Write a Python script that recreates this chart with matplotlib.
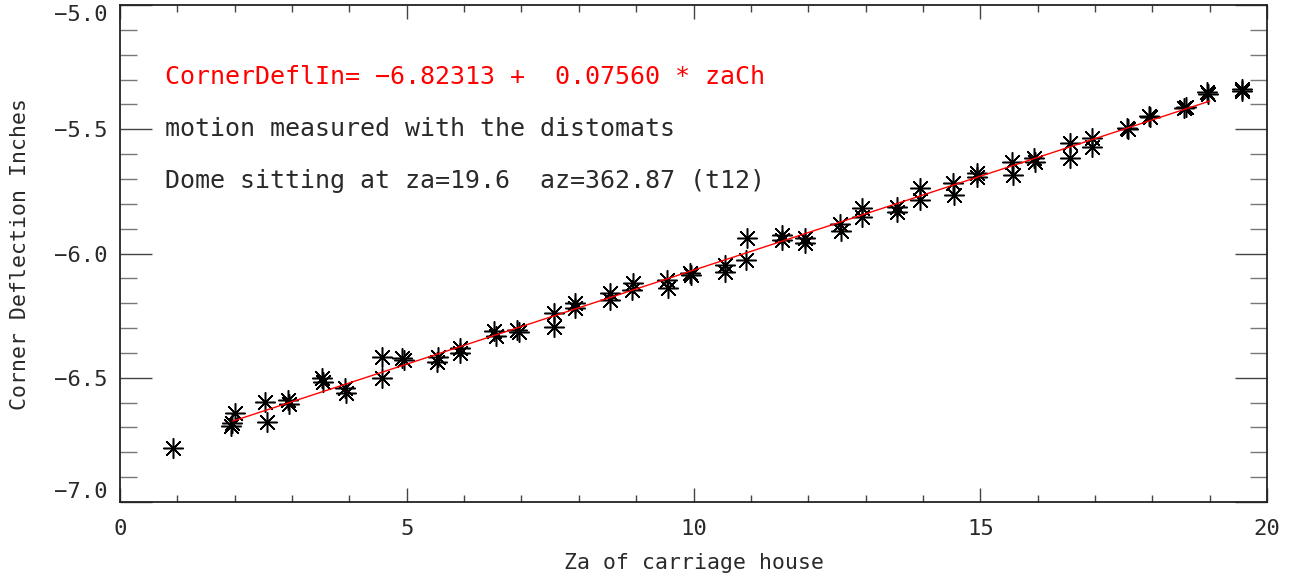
import matplotlib
matplotlib.use("Agg")
import matplotlib.pyplot as plt
from matplotlib.ticker import MultipleLocator, FixedLocator
import numpy as np

# ---- data ----
za = [0.92,
      1.93, 1.96, 2.00,
      2.53, 2.56,
      2.93, 2.95,
      3.52, 3.54,
      3.92, 3.94,
      4.56, 4.56,
      4.91, 4.95,
      5.55, 5.53,
      5.93, 5.93,
      6.53, 6.55,
      6.92, 6.95,
      7.56, 7.56,
      7.94, 7.94,
      8.55, 8.55,
      8.95, 8.93,
      9.53, 9.55,
      9.94, 9.96,
      10.55, 10.55,
      10.93, 10.91,
      11.54, 11.54,
      11.95, 11.95,
      12.56, 12.58,
      12.94, 12.94,
      13.55, 13.55,
      13.95, 13.95,
      14.53, 14.55,
      14.94, 14.94,
      15.55, 15.57,
      15.93, 15.96,
      16.57, 16.57,
      16.95, 16.95,
      17.56, 17.58,
      17.94, 17.96,
      18.58, 18.56,
      18.95, 18.97,
      19.56, 19.56]
defl = [-6.781,
        -6.695, -6.682, -6.640,
        -6.596, -6.677,
        -6.590, -6.605,
        -6.502, -6.516,
        -6.543, -6.563,
        -6.415, -6.502,
        -6.422, -6.430,
        -6.415, -6.435,
        -6.380, -6.400,
        -6.310, -6.330,
        -6.308, -6.315,
        -6.241, -6.294,
        -6.200, -6.220,
        -6.160, -6.187,
        -6.120, -6.147,
        -6.107, -6.140,
        -6.080, -6.085,
        -6.046, -6.073,
        -5.939, -6.026,
        -5.926, -5.946,
        -5.939, -5.959,
        -5.882, -5.910,
        -5.818, -5.852,
        -5.812, -5.832,
        -5.738, -5.785,
        -5.717, -5.765,
        -5.677, -5.691,
        -5.630, -5.684,
        -5.617, -5.630,
        -5.557, -5.617,
        -5.537, -5.570,
        -5.496, -5.500,
        -5.445, -5.450,
        -5.410, -5.416,
        -5.350, -5.358,
        -5.338, -5.345]

fit_intercept = -6.82313
fit_slope = 0.07560
fit_x = [1.97, 19.0]

x_ticks = [0, 5, 10, 15, 20]
x_ticklabels = ["0", "5", "10", "15", "20"]
y_ticks = [-7.0, -6.5, -6.0, -5.5, -5.0]
y_ticklabels = ["\u22127.0", "\u22126.5", "\u22126.0", "\u22125.5", "\u22125.0"]

title_lines = ["CornerDeflIn= \u22126.82313 +  0.07560 * zaCh",
               "motion measured with the distomats",
               "Dome sitting at za=19.6  az=362.87 (t12)"]
xlabel = "Za of carriage house"
ylabel = "Corner Deflection Inches"

# ---- figure ----
plt.rcParams['font.family'] = ['DejaVu Sans Mono', 'DejaVu Sans']
fig = plt.figure(figsize=(12.96, 5.81), dpi=100)
ax = fig.add_axes([120/1296, 79/581, (1267-120)/1296, (502-5)/581])

txtc = "#2a2a2a"
ax.plot(za, defl, linestyle="none", marker=(8, 2, 0), markersize=14.5,
        markeredgewidth=1.1, color="black")
fx = np.array(fit_x)
ax.plot(fx, fit_intercept + fit_slope * fx, color="red", lw=1.0)

ax.set_xlim(0, 20)
ax.set_ylim(-7.0, -5.0)
ax.xaxis.set_major_locator(FixedLocator(x_ticks))
ax.set_xticklabels(x_ticklabels)
ax.yaxis.set_major_locator(FixedLocator(y_ticks))
ax.set_yticklabels(y_ticklabels)
ax.xaxis.set_minor_locator(MultipleLocator(1))
ax.yaxis.set_minor_locator(MultipleLocator(0.1))

ax.tick_params(axis="x", which="major", direction="in", length=10, width=1,
               top=True, bottom=True, labelsize=16, labelcolor=txtc, pad=12, color="#444444")
ax.tick_params(axis="x", which="minor", direction="in", length=5, width=1,
               top=True, bottom=True, color="#444444")
ax.tick_params(axis="y", which="major", direction="in", length=23, width=1,
               left=True, right=True, labelsize=16, labelcolor=txtc, pad=9, color="#444444")
ax.tick_params(axis="y", which="minor", direction="in", length=12, width=1,
               left=True, right=True, color="#777777")
for s in ax.spines.values():
    s.set_linewidth(1.3)
    s.set_color("#222222")

# keep end labels inside the figure, as in the reference
ylabs = ax.get_yticklabels()
ylabs[0].set_va("bottom")
ylabs[-1].set_va("top")

ax.set_xlabel(xlabel, fontsize=15.5, color=txtc, labelpad=10)
ax.set_ylabel(ylabel, fontsize=15.5, color=txtc)
ax.yaxis.set_label_coords(-(120 - 30) / 1147, 0.5)

ys = [77, 129, 181]
cols = ["red", txtc, txtc]
for t, yp, c in zip(title_lines, ys, cols):
    fig.text(165/1296, 1 - yp/581, t, color=c, fontsize=18, va="center", ha="left")

fig.savefig("out.png", dpi=100)
